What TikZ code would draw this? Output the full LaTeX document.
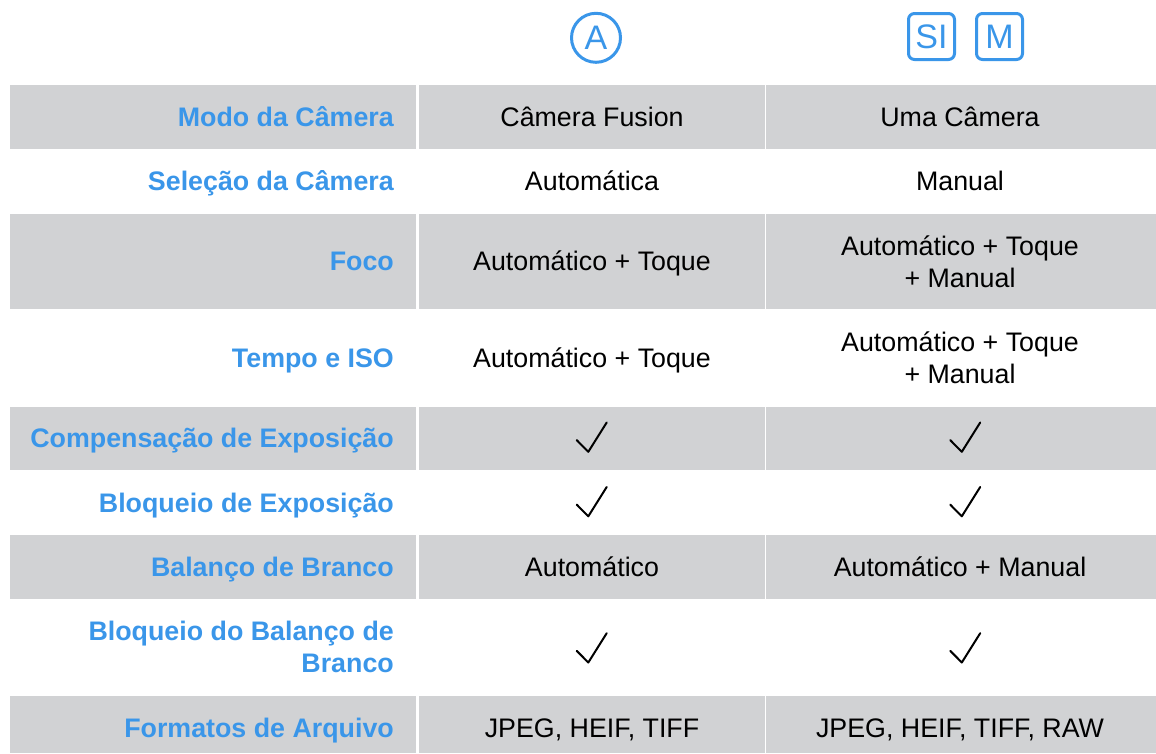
\documentclass[tikz,border=0pt]{standalone}
\usepackage{fontspec}
\setmainfont{Liberation Sans}
\usetikzlibrary{positioning}

\definecolor{camblue}{HTML}{3A96E9}
\definecolor{cellgrey}{HTML}{D1D2D4}

\tikzset{
  rowlabel/.style={anchor=base east, text=camblue, inner sep=0pt, align=right,
    font=\fontsize{26.8}{31.5}\selectfont\bfseries},
  rowvalue/.style={anchor=base, inner sep=0pt, align=center,
    font=\fontsize{26.8}{32}\selectfont},
  badge/.style={draw=camblue, line width=3pt, text=camblue, inner sep=0pt,
    font=\fontsize{34}{34}\selectfont},
  tick/.style={line width=2pt, line cap=round, line join=round},
  checkmark/.pic={\draw[tick] (-15.3,2.8) -- (-3.7,14.5) -- (14.7,-14.8);}
}

\begin{document}
\begin{tikzpicture}[x=1pt, y=-1pt]
        \useasboundingbox (0,0) rectangle (1156,753);

        % grey rows
        \foreach \top/\bot in {85/148.5, 213.5/309, 406.5/470, 535/599, 696/753} {
            \fill[cellgrey] (10,\top) rectangle (416,\bot);
            \fill[cellgrey] (419,\top) rectangle (765,\bot);
            \fill[cellgrey] (766,\top) rectangle (1156,\bot);
        }

        % header icons
        \node[badge, circle, minimum size=49] (auto) at (596,37.8) {A};
        \node[badge, rounded corners=6, minimum size=46] (si) at (931.5,36.5) {SI};
        \node[badge, rounded corners=6, minimum size=46] (man) at (999.5,36.5) {M};

        % labels
        \node[rowlabel] (modo) at (394,126.25) {Modo da Câmera};
        \node[rowlabel] (selecao) at (394,190.5) {Seleção da Câmera};
        \node[rowlabel] (foco) at (394,270.5) {Foco};
        \node[rowlabel] (tempo) at (394,367.25) {Tempo e ISO};
        \node[rowlabel] (compensa) at (394,447.75) {Compensação de Exposição};
        \node[rowlabel] (bloqueio) at (394,512) {Bloqueio de Exposição};
        \node[rowlabel] (balanco) at (394,576.5) {Balanço de Branco};
        \node[rowlabel] (blbalanco) at (394,672) {Bloqueio do Balanço de\\Branco};
        \node[rowlabel] (formatos) at (394,737.5) {Formatos de Arquivo};

        % first column
        \node[rowvalue] (modoA) at (592,126.25) {Câmera Fusion};
        \node[rowvalue] (selecaoA) at (592,190.5) {Automática};
        \node[rowvalue] (focoA) at (592,270.5) {Automático + Toque};
        \node[rowvalue] (tempoA) at (592,367.25) {Automático + Toque};
        \pic at (592,437.3) {checkmark};
        \pic at (592,501.8) {checkmark};
        \node[rowvalue] (balancoA) at (592,576.5) {Automático};
        \pic at (592,648) {checkmark};
        \node[rowvalue] (formatosA) at (592,737.5) {JPEG, HEIF, TIFF};

        % second column
        \node[rowvalue] (modoM) at (960,126.25) {Uma Câmera};
        \node[rowvalue] (selecaoM) at (960,190.5) {Manual};
        \node[rowvalue] (focoM) at (960,287) {Automático + Toque\\+ Manual};
        \node[rowvalue] (tempoM) at (960,383) {Automático + Toque\\+ Manual};
        \pic at (965.5,437.3) {checkmark};
        \pic at (965.5,501.8) {checkmark};
        \node[rowvalue] (balancoM) at (960,576.5) {Automático + Manual};
        \pic at (965.5,648) {checkmark};
        \node[rowvalue] (formatosM) at (960,737.5) {JPEG, HEIF, TIFF, RAW};
    \end{tikzpicture}
\end{document}
